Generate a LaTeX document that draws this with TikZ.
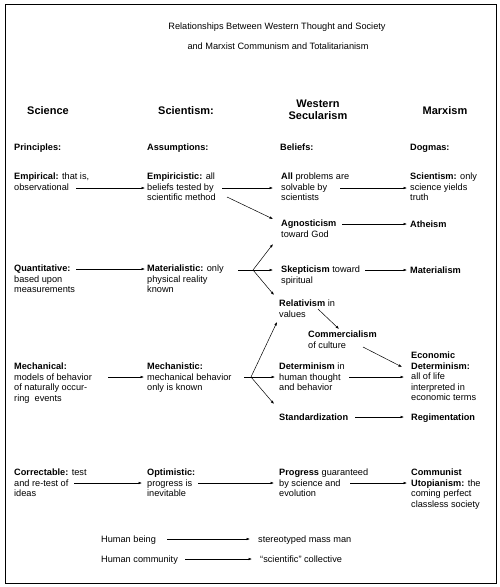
\documentclass[tikz,border=0pt]{standalone}
\usepackage{fontspec}
\setmainfont{Liberation Sans}
\usetikzlibrary{arrows.meta}

\begin{document}
\begin{tikzpicture}[x=1pt,y=-1pt,
    txt/.style={anchor=north west,yshift=7.35pt,align=left,inner sep=0pt,
        font=\fontsize{9.2}{10.5}\selectfont,execute at begin node=\strut},
    head/.style={anchor=base,align=center,inner sep=0pt,font=\fontsize{11}{12}\selectfont\bfseries},
    sub/.style={txt,font=\fontsize{9.2}{10.5}\selectfont\bfseries},
    arr/.style={-{Latex[length=3.5pt,width=2.6pt]},line width=0.5pt}]

    % 枠
    \useasboundingbox (0,0) rectangle (500,587);
    \draw [line width=1pt] (5,4) rectangle (496,583);

    % 表題
    \node [anchor=base,inner sep=0pt,font=\fontsize{9.2}{10.5}\selectfont] (T1) at (277,29)
        {Relationships Between Western Thought and Society};
    \node [anchor=base,inner sep=0pt,font=\fontsize{9.2}{10.5}\selectfont] (T2) at (278,49)
        {and Marxist Communism and Totalitarianism};

    % 見出し
    \node [head] (Sci) at (48,114) {Science};
    \node [head] (Scm) at (186,114) {Scientism:};
    \node [head] (Sec) at (318,119) {Western\\Secularism};
    \node [head] (Mrx) at (445,114) {Marxism};

    \node [sub] (Pri) at (14,150) {Principles:};
    \node [sub] (Ass) at (147,150) {Assumptions:};
    \node [sub] (Bel) at (280,150) {Beliefs:};
    \node [sub] (Dog) at (410,150) {Dogmas:};

    % 項目
    \node [txt] (Emp) at (14,180) {\textbf{Empirical:} that is,\\observational};
    \node [txt] (Epc) at (147,180) {\textbf{Empiricistic:} all\\beliefs tested by\\scientific method};
    \node [txt] (All) at (281,180) {\textbf{All} problems are\\solvable by\\scientists};
    \node [txt] (Sct) at (410,180) {\textbf{Scientism:} only\\science yields\\truth};

    \node [txt] (Agn) at (281,227) {\textbf{Agnosticism}\\toward God};
    \node [txt] (Ath) at (410,227) {\textbf{Atheism}};

    \node [txt] (Qua) at (14,272) {\textbf{Quantitative:}\\based upon\\measurements};
    \node [txt] (Mat) at (147,272) {\textbf{Materialistic:} only\\physical reality\\known};
    \node [txt] (Skp) at (281,273) {\textbf{Skepticism} toward\\spiritual};
    \node [txt] (Mtm) at (410,273) {\textbf{Materialism}};

    \node [txt] (Rel) at (279,307) {\textbf{Relativism} in\\values};
    \node [txt] (Com) at (308,338) {\textbf{Commercialism}\\of culture};

    \node [txt] (Mec) at (14,370) {\textbf{Mechanical:}\\models of behavior\\of naturally occur-\\ring\ \ events};
    \node [txt] (Mtc) at (147,370) {\textbf{Mechanistic:}\\mechanical behavior\\only is known};
    \node [txt] (Det) at (279,370) {\textbf{Determinism} in\\human thought\\and behavior};
    \node [txt] (Eco) at (411,359) {\textbf{Economic}\\\textbf{Determinism:}\\all of life\\interpreted in\\economic terms};

    \node [txt] (Std) at (279,420) {\textbf{Standardization}};
    \node [txt] (Reg) at (411,420) {\textbf{Regimentation}};

    \node [txt] (Cor) at (14,476) {\textbf{Correctable:} test\\and re-test of\\ideas};
    \node [txt] (Opt) at (147,476) {\textbf{Optimistic:}\\progress is\\inevitable};
    \node [txt] (Pro) at (279,476) {\textbf{Progress} guaranteed\\by science and\\evolution};
    \node [txt] (Cmu) at (411,476) {\textbf{Communist}\\\textbf{Utopianism:} the\\coming perfect\\classless society};

    \node [txt] (HB) at (101,542) {Human being};
    \node [txt] (SM) at (258,542) {stereotyped mass man};
    \node [txt] (HC) at (101,562) {Human community};
    \node [txt] (SC) at (260,562) {``scientific'' collective};

    % 矢印の端点
    \coordinate (J1) at (253,270);
    \coordinate (J2) at (251,377);

    % 矢印の描画
    \draw [arr] (76,188) -- (145,188);
    \draw [arr] (222,188) -- (273,188);
    \draw [arr] (227,197) -- (273,219);
    \draw [arr] (340,188) -- (407,188);
    \draw [arr] (342,224) -- (407,224);

    \draw [arr] (76,269) -- (145,269);
    \draw [line width=0.5pt] (238,270) -- (J1);
    \draw [arr] (J1) -- (273,244);
    \draw [arr] (J1) -- (273,270);
    \draw [arr] (J1) -- (274,295);
    \draw [arr] (365,270) -- (407,270);

    \draw [arr] (318,309) -- (339,329);
    \draw [arr] (363,347) -- (402,367);

    \draw [arr] (108,377) -- (144,377);
    \draw [line width=0.5pt] (244,377) -- (J2);
    \draw [arr] (J2) -- (277,322);
    \draw [arr] (J2) -- (275,377);
    \draw [arr] (J2) -- (274,404);
    \draw [arr] (349,377) -- (404,377);
    \draw [arr] (355,417) -- (404,417);

    \draw [arr] (74,483) -- (142,483);
    \draw [arr] (198,483) -- (274,483);
    \draw [arr] (350,483) -- (407,483);

    \draw [arr] (167,539) -- (250,539);
    \draw [arr] (185,559) -- (252,559);

\end{tikzpicture}
\end{document}
